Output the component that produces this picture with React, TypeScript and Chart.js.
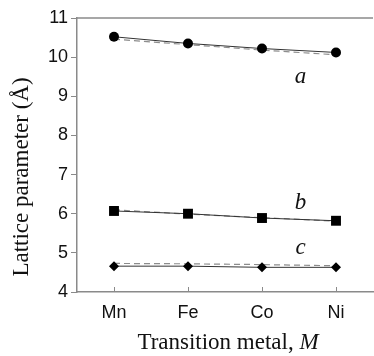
import React, { useEffect, useRef } from "react";
import { Chart, registerables } from "chart.js";

Chart.register(...registerables);

const categories = ["Mn", "Fe", "Co", "Ni"];
const aValues = [10.52, 10.35, 10.22, 10.12];
const aFit = [10.46, 10.32, 10.18, 10.06];
const bValues = [6.07, 6.0, 5.89, 5.82];
const bFit = [6.1, 5.99, 5.9, 5.81];
const cValues = [4.66, 4.66, 4.63, 4.63];
const cFit = [4.73, 4.72, 4.7, 4.67];
const seriesLabels = ["a", "b", "c"];
const labelY = [9.5, 6.28, 5.13];
const labelX = 2.52;
const yTitle = "Lattice parameter (Å)";
const xTitle = "Transition metal, ";
const xTitleItalic = "M";

const AXIS = "#8a8a8a";
const SERIF = "'Liberation Serif'";

const decor = {
  id: "decor",
  afterDraw(chart: any) {
    const { ctx, chartArea, scales } = chart;
    const x = scales.x;
    const y = scales.y;
    ctx.save();
    ctx.strokeStyle = AXIS;
    ctx.lineWidth = 1.5;
    ctx.beginPath();
    ctx.moveTo(chartArea.left, chartArea.top);
    ctx.lineTo(chartArea.right, chartArea.top);
    ctx.stroke();
    ctx.lineWidth = 1;
    categories.forEach((_, i) => {
      const px = Math.round(x.getPixelForValue(i)) + 0.5;
      ctx.beginPath();
      ctx.moveTo(px, chartArea.bottom);
      ctx.lineTo(px, chartArea.bottom - 5);
      ctx.stroke();
    });
    ctx.fillStyle = "#111";
    ctx.font = `italic 23px ${SERIF}`;
    ctx.textAlign = "center";
    ctx.textBaseline = "middle";
    const lx = x.getPixelForValue(0) + (x.getPixelForValue(1) - x.getPixelForValue(0)) * labelX;
    seriesLabels.forEach((s, i) => {
      ctx.fillText(s, lx, y.getPixelForValue(labelY[i]));
    });
    ctx.textAlign = "left";
    ctx.font = `23px ${SERIF}`;
    const w1 = ctx.measureText(xTitle).width;
    ctx.font = `italic 23px ${SERIF}`;
    const w2 = ctx.measureText(xTitleItalic).width;
    const start = 228 - (w1 + w2) / 2;
    ctx.font = `23px ${SERIF}`;
    ctx.fillText(xTitle, start, 343);
    ctx.font = `italic 23px ${SERIF}`;
    ctx.fillText(xTitleItalic, start + w1, 343);
    ctx.translate(22, 177);
    ctx.rotate(-Math.PI / 2);
    ctx.textAlign = "center";
    ctx.font = `23px ${SERIF}`;
    ctx.fillText(yTitle, 0, 0);
    ctx.restore();
  },
};

export default function App() {
  const ref = useRef<HTMLCanvasElement>(null);
  useEffect(() => {
    if (!ref.current) return;
    const solid = (data: number[], style: string, r: number) => ({
      data,
      borderColor: "#333",
      borderWidth: 1,
      pointStyle: style,
      pointRadius: r,
      pointBackgroundColor: "#000",
      pointBorderColor: "#000",
      pointBorderWidth: 0,
      order: 0,
    });
    const dashed = (data: number[]) => ({
      data,
      borderColor: "#8c8c8c",
      borderWidth: 1.2,
      borderDash: [6, 4],
      pointRadius: 0,
      order: 1,
    });
    const chart = new Chart(ref.current, {
      type: "line",
      data: {
        labels: categories,
        datasets: [
          dashed(aFit),
          dashed(bFit),
          dashed(cFit),
          solid(aValues, "circle", 5),
          solid(bValues, "rect", 7),
          solid(cValues, "rectRot", 5),
        ] as any,
      },
      options: {
        animation: false,
        responsive: false,
        devicePixelRatio: 1,
        layout: { padding: { top: 18, right: 3.5, left: 0, bottom: 0 } },
        plugins: { legend: { display: false }, tooltip: { enabled: false } },
        scales: {
          x: {
            offset: true,
            grid: { display: false },
            border: { display: true, color: AXIS, width: 1.5 },
            ticks: {
              color: "#111",
              font: { family: "'Liberation Sans'", size: 18 },
              padding: 2,
            },
            afterFit(scale: any) {
              scale.height = 64;
            },
          },
          y: {
            min: 4,
            max: 11,
            grid: {
              drawOnChartArea: false,
              drawTicks: true,
              tickLength: 6,
              color: AXIS,
            },
            border: { display: true, color: AXIS, width: 1.5 },
            ticks: {
              stepSize: 1,
              color: "#111",
              font: { family: "'Liberation Sans'", size: 18 },
              padding: 3,
            },
            afterFit(scale: any) {
              scale.width = 77;
            },
          },
        },
      },
      plugins: [decor],
    });
    return () => chart.destroy();
  }, []);
  return (
    <div
      style={{
        position: "fixed",
        left: 0,
        top: 0,
        width: 374,
        height: 356,
        overflow: "hidden",
        background: "#fff",
      }}
    >
      <canvas ref={ref} width={380} height={356} style={{ width: 380, height: 356, display: "block" }} />
    </div>
  );
}
